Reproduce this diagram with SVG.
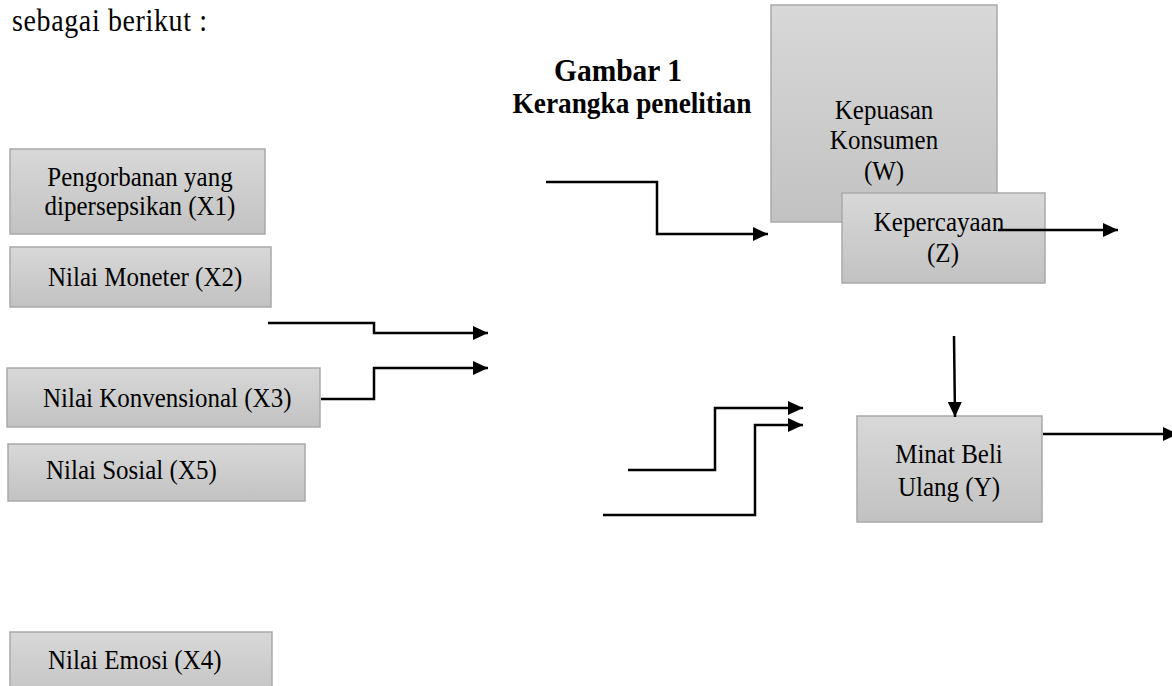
<svg xmlns="http://www.w3.org/2000/svg" width="1172" height="686" viewBox="0 0 1172 686">
<defs>
<linearGradient id="g" x1="0" y1="0" x2="0" y2="1">
<stop offset="0" stop-color="#d8d8d8"/>
<stop offset="1" stop-color="#c2c2c2"/>
</linearGradient>
<marker id="ah" markerUnits="userSpaceOnUse" markerWidth="16" markerHeight="14" refX="15" refY="7" orient="auto">
<path d="M0,0 L15,7 L0,14 z" fill="#000"/>
</marker>
<style>
.box{fill:url(#g);stroke:#a9a9a9;stroke-width:1.5}
.t{font-family:"Liberation Serif","Times New Roman",serif;font-size:25px;fill:#000}
.c{text-anchor:middle}
.b{font-weight:bold}
.ln{fill:none;stroke:#000;stroke-width:2.5}
.ar{marker-end:url(#ah)}
</style>
</defs>
<text class="t" transform="translate(12,31) scale(1,1.1)" style="font-size:28px" textLength="195" lengthAdjust="spacing">sebagai berikut :</text>
<text class="t b c" transform="translate(618,81) scale(1,1.1)" style="font-size:29.5px">Gambar 1</text>
<text class="t b c" transform="translate(632,113) scale(1,1.1)" style="font-size:27.3px">Kerangka penelitian</text>
<g id="n-x1"><rect class="box" x="10" y="149" width="255" height="85"/><text class="t c" transform="translate(140,186) scale(1,1.12)">Pengorbanan yang</text><text class="t c" transform="translate(140,215) scale(1,1.12)">dipersepsikan (X1)</text></g>
<g id="n-x2"><rect class="box" x="10" y="247" width="261" height="60"/><text class="t" transform="translate(48,286) scale(1,1.12)">Nilai Moneter (X2)</text></g>
<g id="n-x3"><rect class="box" x="7" y="368" width="313" height="59"/><text class="t" transform="translate(43,407) scale(1,1.12)">Nilai Konvensional (X3)</text></g>
<g id="n-x5"><rect class="box" x="8" y="444" width="297" height="57"/><text class="t" transform="translate(46,479) scale(1,1.12)">Nilai Sosial (X5)</text></g>
<g id="n-x4"><rect class="box" x="10" y="632" width="262" height="70"/><text class="t" transform="translate(48,669) scale(1,1.12)">Nilai Emosi (X4)</text></g>
<g id="n-w"><rect class="box" x="771" y="5" width="226" height="217"/><text class="t c" transform="translate(884,119) scale(1,1.12)">Kepuasan</text><text class="t c" transform="translate(884,149) scale(1,1.12)">Konsumen</text><text class="t c" transform="translate(884,180) scale(1,1.12)">(W)</text></g>
<g id="n-z"><rect class="box" x="842" y="193" width="203" height="90"/><text class="t c" transform="translate(939,231) scale(1,1.12)">Kepercayaan</text><text class="t c" transform="translate(943,262) scale(1,1.12)">(Z)</text></g>
<g id="n-y"><rect class="box" x="857" y="416" width="185" height="106"/><text class="t c" transform="translate(949,463) scale(1,1.12)">Minat Beli</text><text class="t c" transform="translate(949,496) scale(1,1.12)">Ulang (Y)</text></g>
<g id="connectors">
<polyline class="ln ar" points="546,182 657,182 657,234 768,234"/>
<polyline class="ln ar" points="268,323 374,323 374,333 488,333"/>
<polyline class="ln ar" points="321,399 374,399 374,368 488,368"/>
<polyline class="ln ar" points="628,470 715,470 715,408 803,408"/>
<polyline class="ln ar" points="603,515 755,515 755,425 803,425"/>
<line class="ln ar" x1="998" y1="230" x2="1118" y2="230"/>
<line class="ln ar" x1="954" y1="336" x2="955" y2="417"/>
<line class="ln ar" x1="1043" y1="434" x2="1178" y2="434"/>
</g>
</svg>
